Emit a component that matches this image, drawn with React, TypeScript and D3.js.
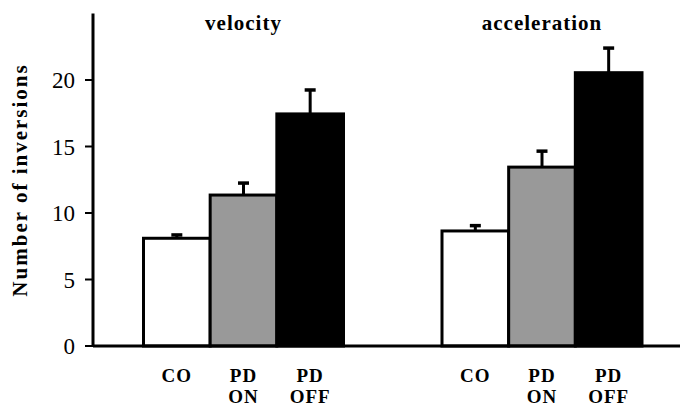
import React, { useEffect, useRef } from "react";
import * as d3 from "d3";

// data
const groups = ["velocity", "acceleration"];
const conditions = ["CO", "PD ON", "PD OFF"];
const velocityMeans = [8.1, 11.35, 17.45];
const velocityErrors = [0.25, 0.9, 1.8];
const accelerationMeans = [8.65, 13.45, 20.55];
const accelerationErrors = [0.4, 1.2, 1.85];
const yTicks = [0, 5, 10, 15, 20];
const fills = ["#ffffff", "#999999", "#000000"];

export default function App() {
  const ref = useRef<SVGSVGElement>(null);

  useEffect(() => {
    const width = 680;
    const height = 408;
    const svg = d3.select(ref.current).attr("width", width).attr("height", height);
    svg.selectAll("*").remove();

    const font = "Liberation Serif, DejaVu Serif, serif";
    const axisX = 93;

    const yScale = d3.scaleLinear().domain([0, 25]).range([346, 13.5]);
    const groupScale = d3.scalePoint<string>().domain(groups).range([243.5, 542]);
    const barScale = d3.scaleBand<string>().domain(conditions).range([-100, 100]).padding(0);

    const rows: { group: string; cond: string; mean: number; err: number; i: number }[] = [];
    conditions.forEach((c, i) => {
      rows.push({ group: "velocity", cond: c, mean: velocityMeans[i], err: velocityErrors[i], i });
      rows.push({ group: "acceleration", cond: c, mean: accelerationMeans[i], err: accelerationErrors[i], i });
    });
    const cx = (d: { group: string; cond: string }) =>
      (groupScale(d.group) as number) + (barScale(d.cond) as number) + barScale.bandwidth() / 2;

    // error bars (drawn first so the bar covers the lower part)
    const eb = svg.append("g");
    eb.selectAll("line.err")
      .data(rows)
      .join("line")
      .attr("x1", cx)
      .attr("x2", cx)
      .attr("y1", (d) => yScale(d.mean))
      .attr("y2", (d) => yScale(d.mean + d.err))
      .attr("stroke", "#000")
      .attr("stroke-width", 3);
    eb.selectAll("line.cap")
      .data(rows)
      .join("line")
      .attr("x1", (d) => cx(d) - 5.5)
      .attr("x2", (d) => cx(d) + 5.5)
      .attr("y1", (d) => yScale(d.mean + d.err))
      .attr("y2", (d) => yScale(d.mean + d.err))
      .attr("stroke", "#000")
      .attr("stroke-width", 3.5);

    // bars
    svg.append("g")
      .selectAll("rect")
      .data(rows)
      .join("rect")
      .attr("x", (d) => (groupScale(d.group) as number) + (barScale(d.cond) as number))
      .attr("y", (d) => yScale(d.mean))
      .attr("width", barScale.bandwidth())
      .attr("height", (d) => yScale(0) - yScale(d.mean))
      .attr("fill", (d) => fills[d.i])
      .attr("stroke", "#000")
      .attr("stroke-width", 3);

    // y axis
    const yAxis = svg.append("g").attr("transform", `translate(${axisX},0)`);
    yAxis.append("line")
      .attr("y1", yScale(25))
      .attr("y2", yScale(0))
      .attr("stroke", "#000")
      .attr("stroke-width", 3);
    yAxis.selectAll("line.tick")
      .data(yTicks)
      .join("line")
      .attr("x1", -8)
      .attr("x2", 0)
      .attr("y1", (d) => yScale(d))
      .attr("y2", (d) => yScale(d))
      .attr("stroke", "#000")
      .attr("stroke-width", 2);
    yAxis.selectAll("text")
      .data(yTicks)
      .join("text")
      .attr("x", -18)
      .attr("y", (d) => yScale(d))
      .attr("dy", "0.36em")
      .attr("text-anchor", "end")
      .style("font-family", font)
      .attr("font-size", 23)
      .text((d) => d);

    // x axis line
    svg.append("line")
      .attr("x1", axisX)
      .attr("x2", width)
      .attr("y1", yScale(0))
      .attr("y2", yScale(0))
      .attr("stroke", "#000")
      .attr("stroke-width", 3);

    // group titles
    svg.selectAll("text.title")
      .data(groups)
      .join("text")
      .attr("x", (d) => groupScale(d) as number)
      .attr("y", 30)
      .attr("text-anchor", "middle")
      .style("font-family", font)
      .attr("font-weight", "bold")
      .attr("font-size", 21)
      .attr("letter-spacing", 1)
      .text((d) => d);

    // condition labels
    const lab = svg.append("g").selectAll("text").data(rows).join("text")
      .attr("text-anchor", "middle")
      .style("font-family", font)
      .attr("font-weight", "bold")
      .attr("font-size", 19)
      .attr("letter-spacing", 1);
    lab.each(function (d) {
      const parts = d.cond.split(" ");
      d3.select(this)
        .selectAll("tspan")
        .data(parts)
        .join("tspan")
        .attr("x", cx(d))
        .attr("y", (_p, k) => 382 + k * 21)
        .text((p) => p);
    });

    // y label
    svg.append("text")
      .attr("transform", `translate(27, 180) rotate(-90)`)
      .attr("text-anchor", "middle")
      .style("font-family", font)
      .attr("font-weight", "bold")
      .attr("font-size", 21)
      .attr("letter-spacing", 2)
      .text("Number of inversions");
  }, []);

  return <svg ref={ref} style={{ position: "absolute", left: 0, top: 0 }} />;
}
